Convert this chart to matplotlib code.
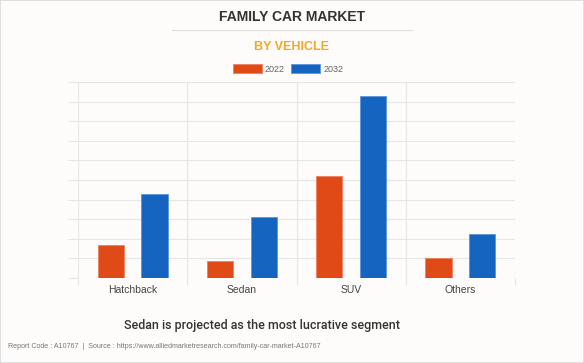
import matplotlib
matplotlib.use("Agg")
import matplotlib.pyplot as plt
import numpy as np
from matplotlib.patches import Rectangle
from matplotlib.lines import Line2D

plt.rcParams['font.family'] = ['Liberation Sans', 'DejaVu Sans']

categories = ["Hatchback", "Sedan", "SUV", "Others"]
years = ["2022", "2032"]
values_2022 = [1.67, 0.87, 5.21, 1.0]
values_2032 = [4.31, 3.12, 9.27, 2.22]

c2022 = "#E04A17"
c2032 = "#1565C0"
grid_c = "#E6E6E6"

fig = plt.figure(figsize=(5.84, 3.63), dpi=100)
fig.patch.set_facecolor("#FDFCFB")
fig.patches.append(Rectangle((0, 0), 1, 1, transform=fig.transFigure, fill=False,
                             edgecolor="#DADADA", linewidth=1.2))

ax = fig.add_axes([78/584, 1-278/363, (515-78)/584, (278-82)/363])
ax.set_facecolor("#FDFCFB")
x = np.arange(len(categories))
w = 0.24
off = 0.2
ax.bar(x - off, values_2022, w, color=c2022, edgecolor="#F08060", linewidth=0.6, label=years[0], zorder=3)
ax.bar(x + off, values_2032, w, color=c2032, edgecolor="#5A95DA", linewidth=0.6, label=years[1], zorder=3)

ax.set_xlim(-0.5, len(categories) - 0.5)
ax.set_ylim(0, 10)
ax.set_yticks(np.arange(0, 11, 1))
ax.set_yticklabels([])
ax.set_xticks(x)
ax.set_xticklabels(categories, fontsize=7.5, color="#444444")
ax.set_xticks(np.arange(-0.5, len(categories), 1), minor=True)
ax.tick_params(axis='x', which='major', length=0, pad=5)
ax.tick_params(axis='x', which='minor', length=5, color=grid_c, width=0.8)
ax.tick_params(axis='y', which='major', length=7, color=grid_c, width=0.8)
ax.grid(axis='y', which='major', color=grid_c, linewidth=0.8, zorder=0)
ax.grid(axis='x', which='minor', color=grid_c, linewidth=0.8, zorder=0)
for s in ax.spines.values():
    s.set_visible(False)

leg = ax.legend(loc='center', bbox_to_anchor=(288/584, 1-69/363), bbox_transform=fig.transFigure,
                ncol=2, frameon=False, fontsize=6.5, handlelength=3.2, handleheight=1.1,
                handletextpad=0.35, columnspacing=0.7, borderpad=0)
for t in leg.get_texts():
    t.set_color("#666666")

fig.text(0.5, 1-17/363, "FAMILY CAR MARKET", ha='center', va='center', fontsize=10,
         fontweight='bold', color="#333333")
fig.add_artist(Line2D([172/584, 412/584], [1-30/363, 1-30/363], transform=fig.transFigure,
                      color="#DDDDDD", linewidth=0.8))
fig.text(0.5, 1-47/363, "BY VEHICLE", ha='center', va='center', fontsize=9,
         fontweight='bold', color="#F5A623")
fig.text(262/584, 1-325/363, "Sedan is projected as the most lucrative segment", ha='center',
         va='center', fontsize=9, color="#333333", family=['Roboto', 'DejaVu Sans'],
         fontweight='medium')
fig.text(8/584, 1-347/363, "Report Code : A10767  |  Source : https://www.alliedmarketresearch.com/family-car-market-A10767",
         ha='left', va='center', fontsize=5.1, color="#777777")

fig.savefig("out.png", dpi=100, facecolor=fig.get_facecolor())
